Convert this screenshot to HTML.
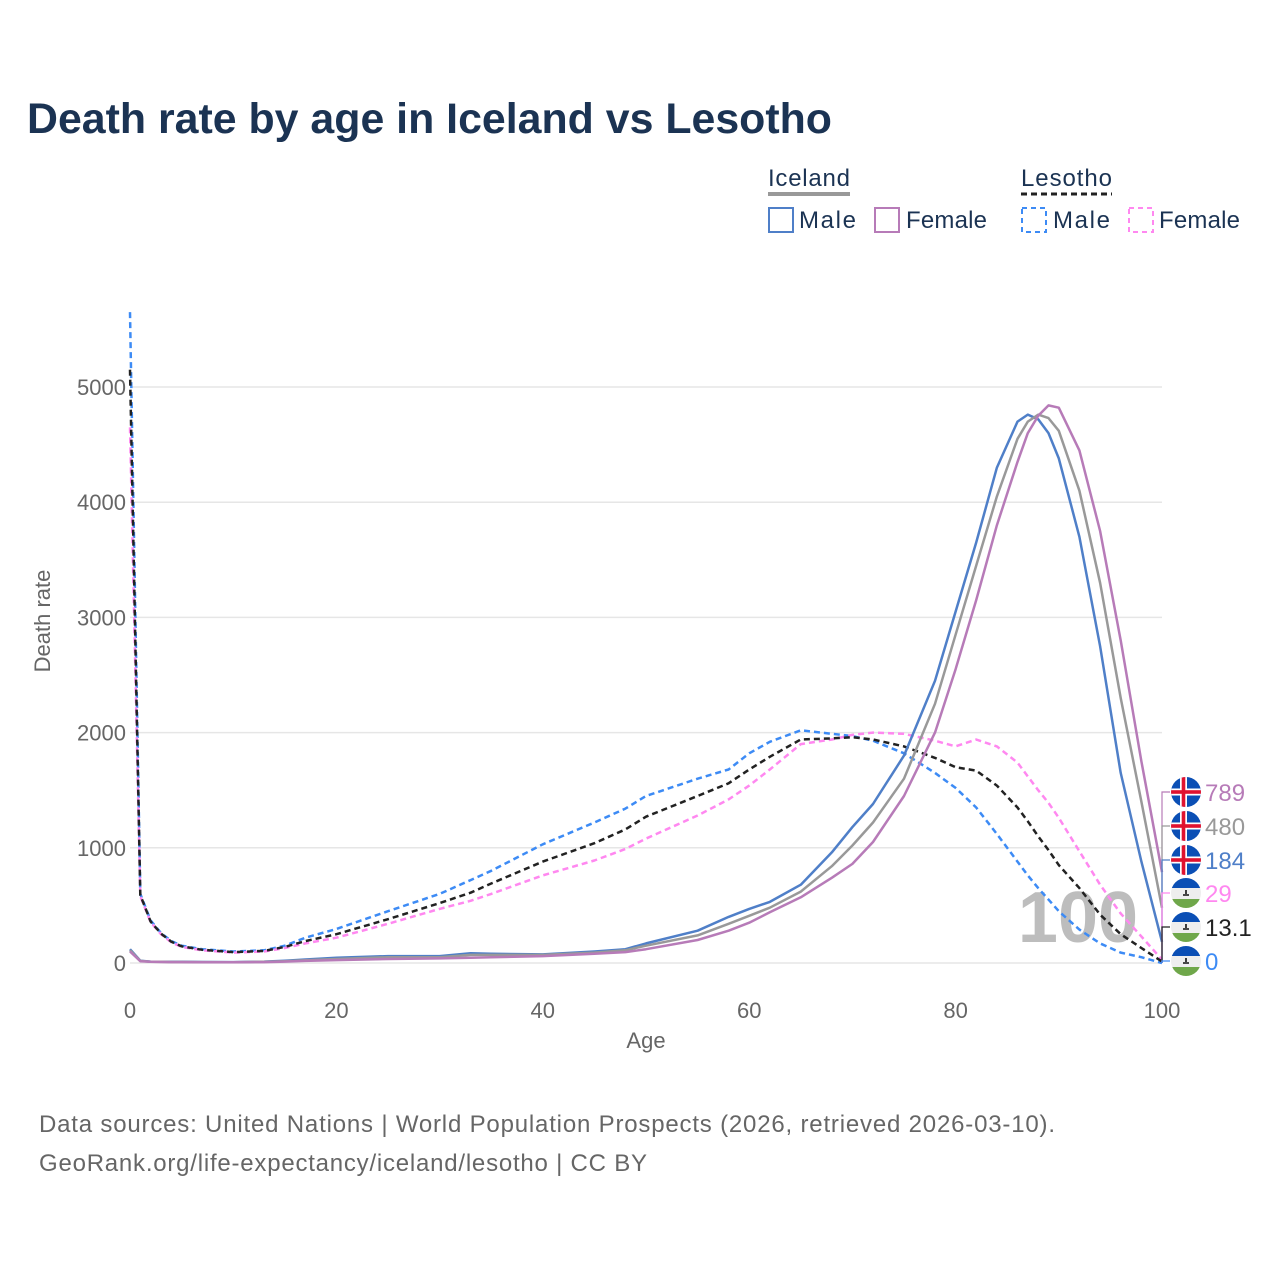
<!DOCTYPE html>
<html><head><meta charset="utf-8">
<style>
body{margin:0;background:#fff;font-family:"Liberation Sans",sans-serif;}
svg text{font-family:"Liberation Sans",sans-serif;}
</style></head>
<body>
<svg width="1280" height="1280" viewBox="0 0 1280 1280" id="chart">
<text x="27" y="133" font-size="43" font-weight="bold" fill="#1b3353" textLength="805" lengthAdjust="spacingAndGlyphs">Death rate by age in Iceland vs Lesotho</text>
<g>
 <text x="768" y="186" font-size="24" fill="#1b3353" textLength="82">Iceland</text>
 <line x1="768" y1="194" x2="850" y2="194" stroke="#999" stroke-width="4"/>
 <text x="1021" y="186" font-size="24" fill="#1b3353" textLength="91">Lesotho</text>
 <line x1="1021" y1="194" x2="1112" y2="194" stroke="#222" stroke-width="3" stroke-dasharray="6,4"/>
 <g><rect x="769" y="208" width="24" height="24" fill="none" stroke="#4f7fc8" stroke-width="2"/><text x="799" y="228" font-size="24" fill="#1b3353" textLength="57">Male</text></g>
 <g><rect x="875" y="208" width="24" height="24" fill="none" stroke="#b77bb8" stroke-width="2"/><text x="906" y="228" font-size="24" fill="#1b3353" textLength="81">Female</text></g>
 <g><rect x="1022" y="208" width="24" height="24" fill="none" stroke="#3d8bf5" stroke-width="2" stroke-dasharray="5,4"/><text x="1053" y="228" font-size="24" fill="#1b3353" textLength="57">Male</text></g>
 <g><rect x="1129" y="208" width="24" height="24" fill="none" stroke="#ff88f0" stroke-width="2" stroke-dasharray="5,4"/><text x="1159" y="228" font-size="24" fill="#1b3353" textLength="81">Female</text></g>
</g>
<g id="grid"></g>
<text x="1078" y="942" font-size="72" font-weight="bold" fill="#bdbdbd" text-anchor="middle">100</text>
<g id="series"></g>
<g id="labels"></g>
<text x="646" y="1048" font-size="22" fill="#666" text-anchor="middle">Age</text>
<text transform="translate(50,621) rotate(-90)" font-size="22" fill="#666" text-anchor="middle">Death rate</text>
<text x="39" y="1132" font-size="24" fill="#666" textLength="1016">Data sources: United Nations | World Population Prospects (2026, retrieved 2026-03-10).</text>
<text x="39" y="1171" font-size="24" fill="#666" textLength="608">GeoRank.org/life-expectancy/iceland/lesotho | CC BY</text>
</svg>
<script>
const ages=[0,1,2,3,4,5,7,10,13,15,17,20,25,30,33,35,40,45,48,50,55,58,60,62,65,68,70,72,75,78,80,82,84,86,87,88,89,90,92,94,96,98,100];
const iceMale=[120,20,12,11,10,10,9,8,12,20,30,45,60,60,85,80,75,100,120,170,280,400,470,530,680,960,1180,1380,1800,2450,3050,3650,4300,4700,4760,4720,4600,4380,3700,2750,1650,880,184];
const iceBoth=[110,18,11,10,9,9,8,7,10,16,24,35,50,50,70,70,70,90,110,150,240,340,410,480,620,840,1020,1220,1600,2250,2850,3450,4050,4550,4700,4760,4730,4620,4100,3300,2300,1400,480];
const iceFemale=[100,16,10,9,8,8,7,6,8,12,18,25,35,40,45,50,60,80,95,120,200,280,350,440,570,740,860,1050,1450,2000,2550,3150,3800,4350,4600,4750,4840,4820,4450,3750,2800,1750,789];
const lesMale=[5650,600,370,260,190,150,120,100,110,150,220,295,450,600,720,800,1030,1220,1340,1450,1600,1680,1820,1920,2020,1990,1970,1930,1820,1650,1520,1350,1120,880,760,650,550,450,290,170,90,50,0];
const lesBoth=[5150,590,360,255,185,145,115,95,105,140,190,250,380,520,610,690,880,1040,1160,1270,1450,1560,1680,1790,1940,1950,1960,1940,1880,1780,1700,1670,1540,1350,1230,1100,980,850,650,420,250,130,13.1];
const lesFemale=[4650,580,355,250,180,140,110,90,100,130,170,220,340,470,540,600,760,890,990,1080,1280,1420,1540,1680,1900,1940,1980,2000,1990,1930,1880,1940,1880,1740,1620,1500,1390,1260,970,680,430,230,29];
const yTicks=[0,1000,2000,3000,4000,5000];
const xTicks=[0,20,40,60,80,100];
const endLabels=["789","480","184","29","13.1","0"];

const NS="http://www.w3.org/2000/svg";
const X=a=>130+a*10.32;
const Y=v=>963-v*0.1152;
function mk(tag,attrs,parent){const e=document.createElementNS(NS,tag);for(const k in attrs)e.setAttribute(k,attrs[k]);parent.appendChild(e);return e;}
const grid=document.getElementById('grid');
yTicks.forEach(t=>{
 const l=mk('line',{x1:130,x2:1162,y1:Y(t),y2:Y(t),stroke:'#e6e6e6','stroke-width':1.5},grid);
 
 
 const tx=mk('text',{x:126,y:Y(t)+8,'font-size':22,fill:'#666','text-anchor':'end'},grid);
 tx.textContent=t;
 
 
});
xTicks.forEach(t=>{
 const tx=mk('text',{x:X(t),y:1018,'font-size':22,fill:'#666','text-anchor':'middle'},grid);
 tx.textContent=t;
 
 
});
const ser=document.getElementById('series');
const defs=[
 [lesMale,'#3d8bf5','6,4','lesotho-male-line'],
 [lesFemale,'#ff88f0','6,4','lesotho-female-line'],
 [lesBoth,'#222','6,4','lesotho-both-line'],
 [iceMale,'#4f7fc8','','iceland-male-line'],
 [iceBoth,'#999','','iceland-both-line'],
 [iceFemale,'#b77bb8','','iceland-female-line']];
defs.forEach(([vals,c,d,n])=>{
 const pts=ages.map((a,i)=>X(a).toFixed(1)+','+Y(vals[i]).toFixed(1)).join(' ');
 const p=mk('polyline',{points:pts,fill:'none',stroke:c,'stroke-width':2.5,'stroke-linejoin':'round'},ser);
 if(d)p.setAttribute('stroke-dasharray',d);
 
 
});
const lab=document.getElementById('labels');
const labColors=['#b77bb8','#999','#4f7fc8','#ff88f0','#222','#3d8bf5'];
const isIce=[1,1,1,0,0,0];
const ly=[792,826,860,893,927,961];
endLabels.forEach((t,i)=>{
 const y=ly[i];
 mk('polyline',{points:`1162,963 1162,${y} 1170,${y}`,fill:'none',stroke:labColors[i],'stroke-width':1.2},lab);
 const g=mk('g',{},lab);
 
 
 const cid='c'+i;
 const cp=mk('clipPath',{id:cid},g);mk('circle',{cx:1186,cy:y,r:15},cp);
 const fg=mk('g',{'clip-path':`url(#${cid})`},g);
 if(isIce[i]){
  mk('rect',{x:1171,y:y-15,width:30,height:30,fill:'#0b4fb5'},fg);
  mk('rect',{x:1171,y:y-3.5,width:30,height:7,fill:'#fff'},fg);
  mk('rect',{x:1180,y:y-15,width:7,height:30,fill:'#fff'},fg);
  mk('rect',{x:1171,y:y-1.8,width:30,height:3.6,fill:'#e0122f'},fg);
  mk('rect',{x:1181.7,y:y-15,width:3.6,height:30,fill:'#e0122f'},fg);
 }else{
  mk('rect',{x:1171,y:y-15,width:30,height:10,fill:'#0b4fb5'},fg);
  mk('rect',{x:1171,y:y-5,width:30,height:11,fill:'#eee'},fg);
  mk('rect',{x:1171,y:y+6,width:30,height:9,fill:'#6fa74a'},fg);
  mk('path',{d:`M1186 ${y-3}v4M1183 ${y+2}h6`,stroke:'#111','stroke-width':1.6},fg);
 }
 const tx=mk('text',{x:1205,y:y+9,'font-size':24,fill:labColors[i]},lab);
 tx.textContent=t;
 
 
});
</script>
</body></html>
